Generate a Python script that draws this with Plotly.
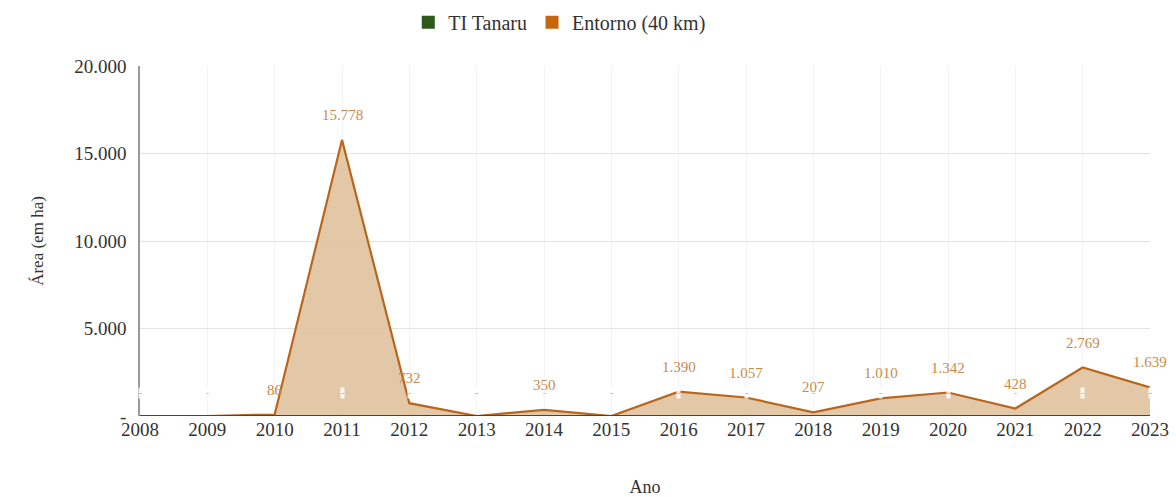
import plotly.graph_objects as go

years = list(range(2008, 2024))
ti_tanaru = [0] * 16
entorno = [0, 0, 86, 15778, 732, 0, 350, 0, 1390, 1057, 207, 1010, 1342, 428, 2769, 1639]
y_ticks = [0, 5000, 10000, 15000, 20000]
y_ticktext = ["-", "5.000", "10.000", "15.000", "20.000"]

FONT = "Liberation Serif"
ORANGE_LINE = "#b9661c"
ORANGE_FILL = "rgba(222,190,152,0.85)"
GREEN = "#2d5a1b"
LABEL = "#c98a4e"
TXT = "#333333"

def fmt(v):
    return f"{v:,}".replace(",", ".")

fig = go.Figure()
fig.add_trace(go.Scatter(x=years, y=entorno, mode="lines", fill="tozeroy",
                         line=dict(color=ORANGE_LINE, width=2.2),
                         fillcolor=ORANGE_FILL, showlegend=False, hoverinfo="skip"))
fig.add_trace(go.Scatter(x=years, y=ti_tanaru, mode="lines",
                         line=dict(color=GREEN, width=2), showlegend=False, hoverinfo="skip"))
# legend entries
fig.add_trace(go.Scatter(x=[None], y=[None], mode="markers", name="TI Tanaru",
                         marker=dict(symbol="square", size=13, color=GREEN)))
fig.add_trace(go.Scatter(x=[None], y=[None], mode="markers", name="Entorno (40 km)",
                         marker=dict(symbol="square", size=13, color="#c8660f")))

annotations = []
for x, v in zip(years, ti_tanaru):
    annotations.append(dict(x=x, y=v, text="-", showarrow=False, yshift=23,
                            yanchor="middle", bgcolor="rgba(255,255,255,0.85)", borderpad=0,
                            font=dict(family=FONT, size=9, color="#999999")))
for x, v in zip(years, entorno):
    if v > 0:
        annotations.append(dict(x=x, y=v, text=fmt(v), showarrow=False, yshift=25,
                                yanchor="middle", font=dict(family=FONT, size=15, color=LABEL)))

fig.update_layout(
    width=1176, height=497,
    paper_bgcolor="white", plot_bgcolor="white",
    margin=dict(l=140, r=26, t=66, b=81, autoexpand=False),
    font=dict(family=FONT, size=18, color=TXT),
    separators=",.",
    legend=dict(orientation="h", x=0.476, xanchor="center", xref="container",
                y=0.955, yanchor="middle", yref="container",
                font=dict(family=FONT, size=20, color=TXT)),
    annotations=annotations,
    xaxis=dict(range=[2008, 2023], tickmode="array", tickvals=years,
               ticktext=[str(y) for y in years], showgrid=True, gridcolor="#f3f3f3",
               zeroline=False, showline=False, ticks="", automargin=False,
               title=dict(text="Ano", font=dict(family=FONT, size=18, color=TXT), standoff=44),
               tickfont=dict(family=FONT, size=19, color=TXT)),
    yaxis=dict(range=[0, 20000], tickmode="array", tickvals=y_ticks, ticktext=y_ticktext,
               showgrid=True, gridcolor="#e3e3e3", zeroline=False,
               showline=True, linecolor="#999999", linewidth=1.5, ticks="", automargin=False,
               ticklabelstandoff=8,
               title=dict(text="Área (em ha)", font=dict(family=FONT, size=17, color=TXT), standoff=26),
               tickfont=dict(family=FONT, size=19, color=TXT)),
)

fig.write_html("out.html", config={"displayModeBar": False},
               post_script="document.body.style.margin='0';document.body.style.overflow='hidden';")
